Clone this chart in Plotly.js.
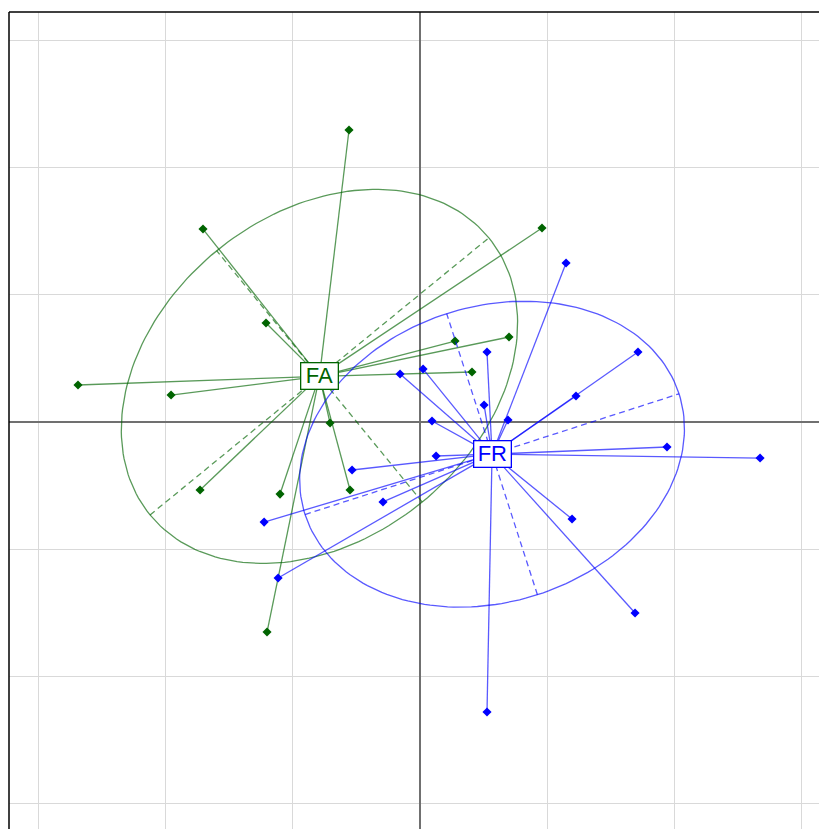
<!DOCTYPE html>
<html>
<head>
<meta charset="utf-8">
<script src="https://cdn.plot.ly/plotly-3.0.1.min.js"></script>
<style>html,body{margin:0;padding:0;background:#fff;}#chart{width:819px;height:829px;}</style>
</head>
<body>
<div id="chart"></div>
<script>
// Class labels
const classNames = ["FA", "FR"];
const classColors = ["#006400", "#0000ff"];
const classLineColors = ["rgba(0,100,0,0.65)", "rgba(0,0,255,0.65)"];

// Class FA coordinates
const faX = [-0.558, -1.705, 0.958, -1.210, 0.699, 0.275, -2.687, -1.956, 0.408, -0.707, -1.728, -1.100, -0.550, -1.202];
const faY = [2.294, 1.516, 1.524, 0.778, 0.668, 0.636, 0.291, 0.212, 0.393, -0.008, -0.534, -0.566, -0.534, -1.650];

// Class FR coordinates
const frX = [1.147, 1.712, 1.225, 0.526, 0.024, -0.157, 0.503, 0.691, 0.094, 1.940, 2.671, 0.126, -0.534, -0.291, -1.225, 1.194, -1.115, 1.689, 0.526];
const frY = [1.249, 0.550, 0.204, 0.550, 0.416, 0.377, 0.134, 0.016, 0.008, -0.196, -0.283, -0.267, -0.377, -0.628, -0.786, -0.762, -1.225, -1.500, -2.278];

const cellipse = 1.5;
const groups = [[faX, faY], [frX, frY]];

function mean(a) { return a.reduce((s, v) => s + v, 0) / a.length; }

const traces = [];
const annotations = [];

groups.forEach(([xs, ys], g) => {
  const mx = mean(xs), my = mean(ys);
  const n = xs.length;
  let vx = 0, vy = 0, cxy = 0;
  for (let i = 0; i < n; i++) {
    vx += (xs[i] - mx) ** 2; vy += (ys[i] - my) ** 2; cxy += (xs[i] - mx) * (ys[i] - my);
  }
  vx /= n; vy /= n; cxy /= n;
  const delta = Math.sqrt((vx - vy) ** 2 + 4 * cxy * cxy);
  let l1 = (vx + vy + delta) / 2;
  let l2 = vx + vy - l1;
  l1 = Math.sqrt(Math.max(l1, 0)); l2 = Math.sqrt(Math.max(l2, 0));
  let a0 = 1, b0 = (l1 * l1 - vx) / cxy;
  const nrm = Math.sqrt(a0 * a0 + b0 * b0);
  a0 /= nrm; b0 /= nrm;
  const c11 = cellipse * a0 * l1, c12 = -cellipse * b0 * l2;
  const c21 = cellipse * b0 * l1, c22 = cellipse * a0 * l2;
  const ex = [], ey = [];
  for (let i = 0; i <= 200; i++) {
    const t = 2 * Math.PI * i / 200;
    ex.push(mx + c11 * Math.cos(t) + c12 * Math.sin(t));
    ey.push(my + c21 * Math.cos(t) + c22 * Math.sin(t));
  }
  const col = classLineColors[g];
  traces.push({ x: ex, y: ey, mode: "lines", line: { color: col, width: 1.3 }, hoverinfo: "skip" });
  traces.push({
    x: [mx - c11, mx + c11, null, mx - c12, mx + c12],
    y: [my - c21, my + c21, null, my - c22, my + c22],
    mode: "lines", line: { color: col, width: 1.3, dash: "6px,4px" }, hoverinfo: "skip"
  });
  const sx = [], sy = [];
  for (let i = 0; i < n; i++) { sx.push(mx, xs[i], null); sy.push(my, ys[i], null); }
  traces.push({ x: sx, y: sy, mode: "lines", line: { color: col, width: 1.3 }, hoverinfo: "skip" });
  traces.push({ x: xs, y: ys, mode: "markers", marker: { symbol: "diamond", size: 7, color: classColors[g] }, hoverinfo: "skip" });
  annotations.push({
    x: mx, y: my, xref: "x", yref: "y", text: classNames[g], showarrow: false,
    font: { family: "Liberation Sans, Arial, sans-serif", size: 22, color: classColors[g] },
    width: 33, height: 22, align: "center", valign: "middle",
    bgcolor: "#ffffff", bordercolor: classColors[g], borderwidth: 1.3, borderpad: 1.5
  });
});

const axisCommon = {
  dtick: 1, tick0: 0, showticklabels: false, ticks: "", showline: false,
  showgrid: true, gridcolor: "#d9d9d9", gridwidth: 1,
  zeroline: true, zerolinecolor: "#707070", zerolinewidth: 2, fixedrange: true
};

const layout = {
  width: 819, height: 829,
  margin: { l: 9, r: 0, t: 12, b: 0, pad: 0 },
  paper_bgcolor: "#ffffff", plot_bgcolor: "#ffffff",
  showlegend: false,
  xaxis: Object.assign({ range: [-3.229, 3.134] }, axisCommon),
  yaxis: Object.assign({ range: [-3.197, 3.221] }, axisCommon),
  annotations: annotations,
  shapes: [
    { type: "line", xref: "paper", yref: "paper", x0: 0, x1: 1, y0: 1, y1: 1, line: { color: "#000", width: 1.5 } },
    { type: "line", xref: "paper", yref: "paper", x0: 0, x1: 0, y0: 0, y1: 1, line: { color: "#000", width: 1.5 } }
  ]
};

Plotly.newPlot("chart", traces, layout, { displayModeBar: false, staticPlot: true });
</script>
</body>
</html>
